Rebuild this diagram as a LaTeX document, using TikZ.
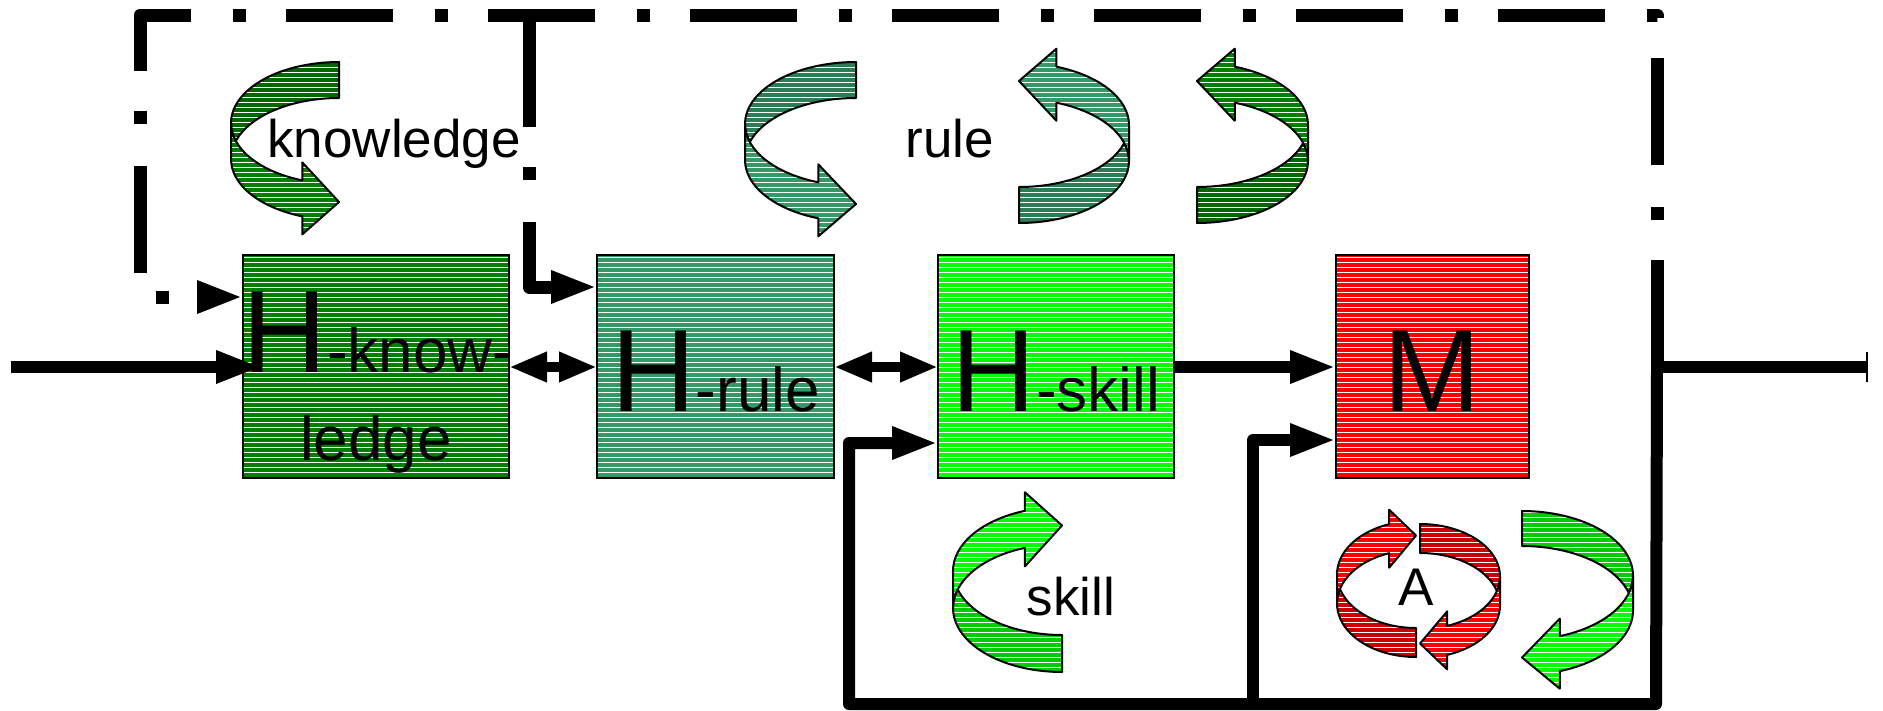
\documentclass[tikz,border=0pt]{standalone}
\usepackage{fontspec}
\setmainfont{Liberation Sans}
\usetikzlibrary{arrows.meta}

\definecolor{kg}{HTML}{008000}
\definecolor{kgd}{HTML}{006800}
\definecolor{rg}{HTML}{339966}
\definecolor{rgd}{HTML}{2A7D55}
\definecolor{sg}{HTML}{00FF00}
\definecolor{sgd}{HTML}{00CC00}
\definecolor{mr}{HTML}{FF0000}
\definecolor{mrd}{HTML}{CC0000}

\newcommand{\smallf}{\fontsize{62}{70}\selectfont}

\tikzset{
  hatch/.style={fill=#1, path picture={%
      \pgftransformreset
      \foreach \k in {0,...,142}
        \draw[white, line width=1pt]
          (0pt,{-\k*5pt-2.5pt}) -- (1883pt,{-\k*5pt-2.5pt});}},
  box/.style={draw=black, line width=2pt, rectangle, inner sep=0pt, outer sep=0pt, minimum height=223pt},
  big/.style={font=\fontsize{117}{140}\selectfont, inner sep=0pt, anchor=base},
  mid/.style={font=\smallf, inner sep=0pt, anchor=base},
  lbl/.style={font=\fontsize{53}{64}\selectfont, inner sep=0pt, anchor=base},
  main/.style={line width=12pt, line join=round},
  dd/.style={line width=13pt, dash pattern=on 107pt off 40pt on 13pt off 42pt, line join=round},
  tipbig/.tip={Triangle[length=46pt,width=30pt]},
  tipsm/.tip={Triangle[length=38pt,width=28pt]},
  outl/.style={draw=black, line width=2pt, line join=round}
}

% #1 front colour, #2 back colour, #3 #4 anchor, #5 xscale, #6 yscale, #7 w, #8 hR, #9 th
\newcommand{\curvarr}[9]{%
  \begin{scope}[shift={(#3,#4)}, xscale=#5, yscale=#6]
    \pgfmathsetmacro{\cAw}{#7}
    \pgfmathsetmacro{\cAhr}{#8}
    \pgfmathsetmacro{\cAth}{#9}
    \pgfmathsetmacro{\cAah}{0.34*\cAw}
    \pgfmathsetmacro{\cAdy}{\cAhr*sqrt(1-0.34*0.34)}
    \pgfmathsetmacro{\cAxa}{\cAw-\cAah}
    \pgfmathsetmacro{\cAyfour}{\cAhr+\cAdy-\cAth/2}
    \pgfmathsetmacro{\cAyseven}{\cAhr+\cAth+\cAdy}
    \pgfmathsetmacro{\cAyeight}{\cAyseven+\cAth/2}
    \pgfmathsetmacro{\cAysix}{2*\cAhr+\cAth/2}
    \pgfmathsetmacro{\cAta}{acos(-0.34)}
    \pgfmathsetmacro{\cAal}{asin(\cAth/(2*\cAhr))}
    \path[hatch=#2, outl]
      (\cAw,\cAth) arc[start angle=270, end angle={180+\cAal}, x radius=\cAw, y radius=\cAhr]
      arc[start angle={180-\cAal}, end angle=270, x radius=\cAw, y radius=\cAhr] -- cycle;
    \path[hatch=#1, outl]
      (0,\cAhr) arc[start angle=180, end angle=\cAta, x radius=\cAw, y radius=\cAhr]
      -- (\cAxa,\cAyfour) -- (\cAw,\cAysix) -- (\cAxa,\cAyeight) -- (\cAxa,\cAyseven)
      arc[start angle=\cAta, end angle=180, x radius=\cAw, y radius=\cAhr] -- cycle;
  \end{scope}}

\begin{document}
\begin{tikzpicture}[x=1pt,y=-1pt]
\useasboundingbox[fill=white] (0,0) rectangle (1883,710);

% curved arrows
\curvarr{kg}{kgd}{231}{62}{1}{1}{108}{61}{36}
\curvarr{rg}{rgd}{745}{62}{1}{1}{111}{62}{36}
\curvarr{rg}{rgd}{1129}{223}{-1}{-1}{110}{62}{36}
\curvarr{kg}{kgd}{1308}{223}{-1}{-1}{111}{62}{36}
\curvarr{sg}{sgd}{953}{672}{1}{-1}{109}{64}{37}
\curvarr{mr}{mrd}{1337}{657}{1}{-1}{79}{53.5}{29}
\curvarr{mr}{mrd}{1500}{524}{-1}{1}{80}{52.5}{29}
\curvarr{sg}{sgd}{1633}{511}{-1}{1}{111}{64.5}{35}

% boxes
\node[box, hatch=kg, minimum width=266pt] (kbox) at (376,366.5) {};
\node[box, hatch=rg, minimum width=237pt] (rbox) at (715.5,366.5) {};
\node[box, hatch=sg, minimum width=236pt] (sbox) at (1056,366.5) {};
\node[box, hatch=mr, minimum width=193pt] (mbox) at (1432.5,366.5) {};

% coordinates
\coordinate (in) at (11,367);
\coordinate (kin) at (262,367);
\coordinate (j) at (1657,367);
\coordinate (out) at (1868,367);

% dash-dot feedback
\draw[dd, -tipbig] (j) -- (1657,15) -- (140,15) -- (140,297) -- (kbox.west |- 0,297);
\draw[dd, -tipbig] (529,20) -- (529,287) -- (rbox.west |- 0,287);

% solid feedback
\draw[main, -tipbig] (j) -- (1656,704) -- (849,704) -- (849,443) -- (sbox.west |- 0,443);
\draw[main, -tipbig] (1253,704) -- (1253,440) -- (mbox.west |- 0,440);

% forward path
\draw[main, -tipbig] (in) -- (kin);
\draw[line width=10pt, tipsm-tipsm] (kbox.east |- 0,367) -- (rbox.west |- 0,367);
\draw[line width=10pt, tipsm-tipsm] (rbox.east |- 0,367) -- (sbox.west |- 0,367);
\draw[main, -tipbig] (sbox.east |- 0,367) -- (mbox.west |- 0,367);
\draw[main, -{Bar[width=30pt,line width=2.5pt]}] (j) -- (out);

% box texts
\node[big] (kt1) at (378,372) {H\smallf -know-};
\node[mid] (kt2) at (376,460) {ledge};
\node[big] (rt) at (715.5,411) {H\smallf -rule};
\node[big] (st) at (1056,411) {H\smallf -skill};
\node[big] (mt) at (1432.5,411) {M};

% labels
\node[lbl] (lk) at (394,157) {knowledge};
\node[lbl] (lr) at (950,157) {rule};
\node[lbl] (ls) at (1071,615) {skill};
\node[lbl] (la) at (1416,605) {A};
\end{tikzpicture}
\end{document}
